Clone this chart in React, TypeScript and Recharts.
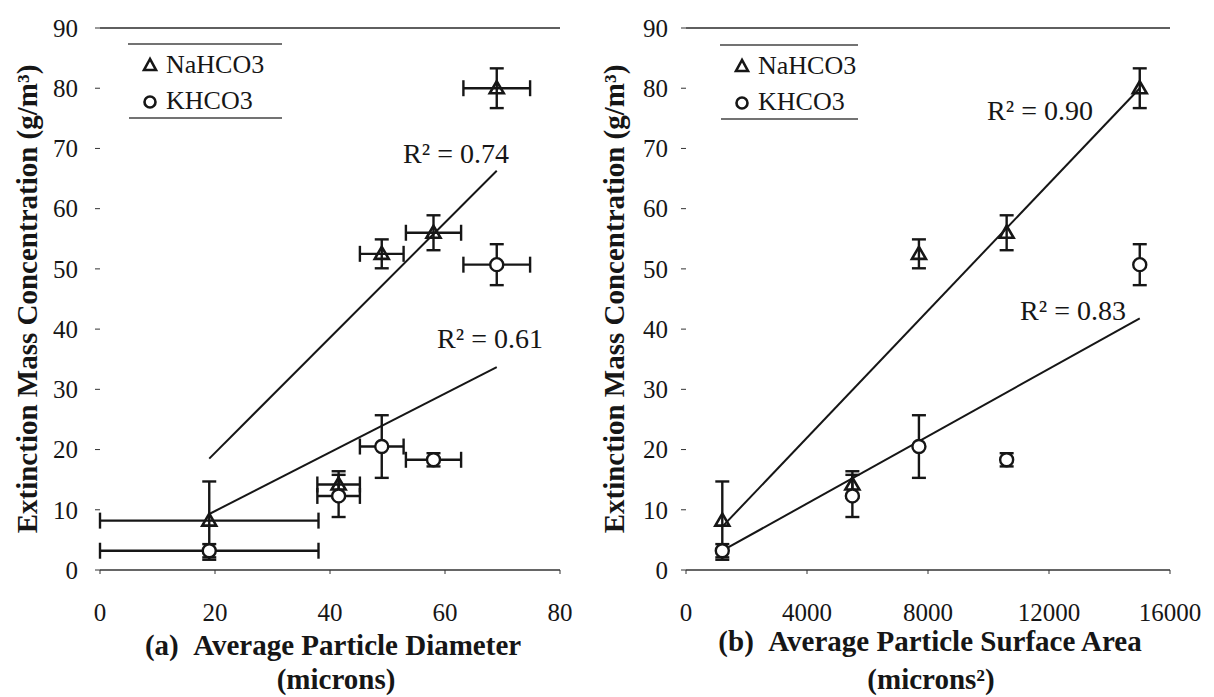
import React from 'react';
import { ScatterChart, Scatter, XAxis, YAxis, ErrorBar, ReferenceLine } from 'recharts';

// shared per-sample values
const diameter = [19, 41.5, 49, 58, 69];
const diameterErr = [19, 3.7, 3.8, 4.8, 5.8];
const surfaceArea = [1200, 5500, 7700, 10600, 15000];
const nahco3Conc = [8.2, 14.2, 52.5, 56, 80];
const nahco3Err = [6.5, 2.2, 2.4, 2.9, 3.3];
const khco3Conc = [3.2, 12.3, 20.5, 18.3, 50.7];
const khco3Err = [1.1, 3.5, 5.2, 1.1, 3.4];

// axis ticks
const concTicks = [0, 10, 20, 30, 40, 50, 60, 70, 80, 90];
const diameterTicks = [0, 20, 40, 60, 80];
const areaTicks = [0, 4000, 8000, 12000, 16000];

// trend line end points
const diameterFitX = [19, 69];
const nahco3DiameterFit = [18.5, 66.3];
const khco3DiameterFit = [9.3, 33.7];
const areaFitX = [1200, 15000];
const nahco3AreaFit = [7.2, 80];
const khco3AreaFit = [3.2, 41.8];

const SERIF = '"Liberation Serif", "Times New Roman", serif';
const INK = '#161616';

const naDiam = diameter.map((x, i) => ({ x, y: nahco3Conc[i], ex: diameterErr[i], ey: nahco3Err[i] }));
const kDiam = diameter.map((x, i) => ({ x, y: khco3Conc[i], ex: diameterErr[i], ey: khco3Err[i] }));
const naArea = surfaceArea.map((x, i) => ({ x, y: nahco3Conc[i], ey: nahco3Err[i] }));
const kArea = surfaceArea.map((x, i) => ({ x, y: khco3Conc[i], ey: khco3Err[i] }));

const seg = (xs: number[], ys: number[]) => [
  { x: xs[0], y: ys[0] },
  { x: xs[1], y: ys[1] },
];

const Triangle = (p: any) => {
  const { cx, cy } = p;
  return (
    <polygon
      points={`${cx},${cy - 7} ${cx - 7},${cy + 5} ${cx + 7},${cy + 5}`}
      fill="none"
      stroke={INK}
      strokeWidth={2.6}
    />
  );
};

const Circle = (p: any) => {
  const { cx, cy } = p;
  return <circle cx={cx} cy={cy} r={6.5} fill="#fff" stroke={INK} strokeWidth={2.4} />;
};

const XTick = (p: any) => (
  <text x={p.x} y={p.y} dy="0.71em" textAnchor="middle" fontSize={25} fontFamily={SERIF} fill={INK}>
    {p.payload.value}
  </text>
);

const YTick = (p: any) => (
  <text x={p.x} y={p.y} dy="0.35em" textAnchor="end" fontSize={25} fontFamily={SERIF} fill={INK}>
    {p.payload.value}
  </text>
);

type PanelProps = {
  left: number;
  width: number;
  yAxisWidth: number;
  rightMargin: number;
  yTickMargin: number;
  xDomain: number[];
  xTicks: number[];
  na: any[];
  k: any[];
  withXErr: boolean;
  fitX: number[];
  naFit: number[];
  kFit: number[];
};

const Panel = (p: PanelProps) => (
  <div style={{ position: 'absolute', left: p.left, top: 0 }}>
    <ScatterChart
      width={p.width}
      height={697}
      margin={{ top: 28, right: p.rightMargin, bottom: 67, left: 0 }}
    >
      <XAxis
        type="number"
        dataKey="x"
        domain={p.xDomain}
        ticks={p.xTicks}
        interval={0}
        allowDataOverflow
        height={60}
        axisLine={{ stroke: '#333', strokeWidth: 1.5 }}
        tickLine={{ stroke: '#333' }}
        tickSize={4}
        tickMargin={29}
        tick={<XTick />}
      />
      <YAxis
        type="number"
        dataKey="y"
        domain={[0, 90]}
        ticks={concTicks}
        interval={0}
        allowDataOverflow
        width={p.yAxisWidth}
        axisLine={false}
        tickLine={{ stroke: '#333' }}
        tickSize={5}
        tickMargin={p.yTickMargin}
        tick={<YTick />}
      />
      <ReferenceLine y={90} stroke="#2a2a2a" strokeWidth={1.5} />
      <ReferenceLine segment={seg(p.fitX, p.naFit)} stroke={INK} strokeWidth={2} />
      <ReferenceLine segment={seg(p.fitX, p.kFit)} stroke={INK} strokeWidth={2} />
      <Scatter data={p.na} shape={Triangle} isAnimationActive={false}>
        {p.withXErr && (
          <ErrorBar dataKey="ex" direction="x" width={8} stroke={INK} strokeWidth={2.4} />
        )}
        <ErrorBar dataKey="ey" direction="y" width={7} stroke={INK} strokeWidth={2.4} />
      </Scatter>
      <Scatter data={p.k} shape={Circle} isAnimationActive={false}>
        {p.withXErr && (
          <ErrorBar dataKey="ex" direction="x" width={8} stroke={INK} strokeWidth={2.4} />
        )}
        <ErrorBar dataKey="ey" direction="y" width={7} stroke={INK} strokeWidth={2.4} />
      </Scatter>
    </ScatterChart>
  </div>
);

const LegendBox = ({ x, top, right }: { x: number; top: number; right: number }) => (
  <g>
    <line x1={x - 22} y1={top} x2={right} y2={top} stroke="#444" strokeWidth={1.5} />
    <polygon
      points={`${x},${top + 15} ${x - 6},${top + 26} ${x + 6},${top + 26}`}
      fill="none"
      stroke={INK}
      strokeWidth={2.6}
    />
    <text x={x + 16} y={top + 20} fontSize={26} dominantBaseline="central">
      NaHCO3
    </text>
    <circle cx={x} cy={top + 58} r={5.5} fill="none" stroke={INK} strokeWidth={2.6} />
    <text x={x + 16} y={top + 56} fontSize={26} dominantBaseline="central">
      KHCO3
    </text>
    <line x1={x - 21} y1={top + 74} x2={right} y2={top + 74} stroke="#444" strokeWidth={1.5} />
  </g>
);

export default function App() {
  return (
    <div
      style={{
        position: 'absolute',
        left: 0,
        top: 0,
        width: 1214,
        height: 697,
        background: '#fff',
        overflow: 'hidden',
      }}
    >
      <Panel
        left={0}
        width={600}
        yAxisWidth={100}
        rightMargin={40}
        yTickMargin={17}
        xDomain={[0, 80]}
        xTicks={diameterTicks}
        na={naDiam}
        k={kDiam}
        withXErr
        fitX={diameterFitX}
        naFit={nahco3DiameterFit}
        kFit={khco3DiameterFit}
      />
      <Panel
        left={600}
        width={614}
        yAxisWidth={86}
        rightMargin={44}
        yTickMargin={13}
        xDomain={[0, 16000]}
        xTicks={areaTicks}
        na={naArea}
        k={kArea}
        withXErr={false}
        fitX={areaFitX}
        naFit={nahco3AreaFit}
        kFit={khco3AreaFit}
      />
      <svg
        width={1214}
        height={697}
        style={{ position: 'absolute', left: 0, top: 0, pointerEvents: 'none' }}
        fontFamily={SERIF}
        fill={INK}
      >
        <LegendBox x={150} top={44} right={282} />
        <LegendBox x={742} top={45} right={858} />

        <g fontSize={28} textAnchor="middle">
          <text x={456} y={153} dominantBaseline="central">R² = 0.74</text>
          <text x={490} y={338} dominantBaseline="central">R² = 0.61</text>
          <text x={1040} y={110} dominantBaseline="central">R² = 0.90</text>
          <text x={1073} y={310} dominantBaseline="central">R² = 0.83</text>
        </g>

        <g fontSize={29} fontWeight="bold" textAnchor="middle">
          <text transform="translate(27,299) rotate(-90)" dominantBaseline="central">
            Extinction Mass Concentration (g/m³)
          </text>
          <text transform="translate(614,299) rotate(-90)" dominantBaseline="central">
            Extinction Mass Concentration (g/m³)
          </text>
          <text x={333} y={645} dominantBaseline="central">
            {'(a)\u00A0\u00A0Average Particle Diameter'}
          </text>
          <text x={336} y={679} dominantBaseline="central">(microns)</text>
          <text x={930} y={641} dominantBaseline="central">
            {'(b)\u00A0\u00A0Average Particle Surface Area'}
          </text>
          <text x={931} y={679} dominantBaseline="central">(microns²)</text>
        </g>
      </svg>
    </div>
  );
}
